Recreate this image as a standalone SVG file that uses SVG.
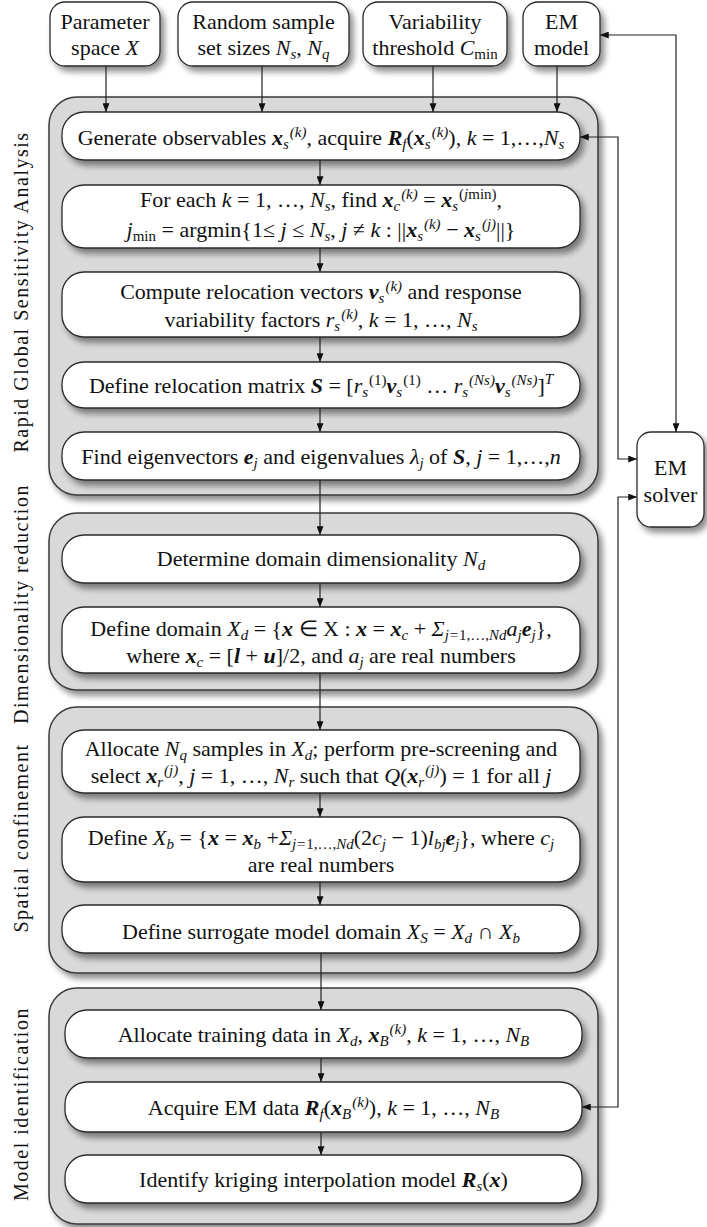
<svg xmlns="http://www.w3.org/2000/svg" width="707" height="1227" viewBox="0 0 707 1227">
<defs>
<style>
text{font-family:"Liberation Serif","Times New Roman",serif;font-size:22px;fill:#111}
.t{text-anchor:middle}
.lab{font-size:20px;letter-spacing:1.5px;text-anchor:middle}
.i{font-style:italic}
.b{font-weight:bold;font-style:italic}
.s{font-size:15px}
.sec{fill:#d9d9d9;stroke:#3a3a3a;stroke-width:1.5}
.box{fill:#fff;stroke:#2a2a2a;stroke-width:1.3}
.ln{fill:none;stroke:#222;stroke-width:1.2}
</style>
<filter id="sh" x="-10%" y="-10%" width="125%" height="140%">
<feGaussianBlur in="SourceAlpha" stdDeviation="3"/>
<feOffset dx="4" dy="5" result="o"/>
<feComponentTransfer><feFuncA type="linear" slope="0.45"/></feComponentTransfer>
<feMerge><feMergeNode/><feMergeNode in="SourceGraphic"/></feMerge>
</filter>
<marker id="ar" viewBox="0 0 10 8" refX="10" refY="4" markerWidth="9" markerHeight="7" markerUnits="userSpaceOnUse" orient="auto-start-reverse">
<path d="M0,0 L10,4 L0,8 z" fill="#111"/>
</marker>
</defs>

<!-- sections -->
<g id="sec1"><rect class="sec" x="49" y="97" width="549" height="398" rx="28" filter="url(#sh)"/>
<text class="lab" transform="translate(28,292) rotate(-90)">Rapid Global Sensitivity Analysis</text></g>
<g id="sec2"><rect class="sec" x="49" y="513" width="549" height="177" rx="28" filter="url(#sh)"/>
<text class="lab" transform="translate(28,604) rotate(-90)">Dimensionality reduction</text></g>
<g id="sec3"><rect class="sec" x="49" y="707" width="549" height="266" rx="28" filter="url(#sh)"/>
<text class="lab" transform="translate(28,838) rotate(-90)">Spatial confinement</text></g>
<g id="sec4"><rect class="sec" x="49" y="988" width="549" height="236" rx="28" filter="url(#sh)"/>
<text class="lab" transform="translate(28,1104) rotate(-90)">Model identification</text></g>

<!-- top inputs -->
<g id="in1"><rect class="box" x="50" y="2" width="110" height="64" rx="15" filter="url(#sh)"/>
<text class="t" x="105" y="29">Parameter</text>
<text class="t" x="105" y="55">space <tspan class="i">X</tspan></text></g>
<g id="in2"><rect class="box" x="178" y="2" width="171" height="64" rx="15" filter="url(#sh)"/>
<text class="t" x="263.5" y="29">Random sample</text>
<text class="t" x="263.5" y="55">set sizes <tspan class="i">N</tspan><tspan class="s i" baseline-shift="-4">s</tspan>, <tspan class="i">N</tspan><tspan class="s i" baseline-shift="-4">q</tspan></text></g>
<g id="in3"><rect class="box" x="363" y="2" width="144" height="64" rx="15" filter="url(#sh)"/>
<text class="t" x="435" y="29">Variability</text>
<text class="t" x="435" y="55">threshold <tspan class="i">C</tspan><tspan class="s" baseline-shift="-4">min</tspan></text></g>
<g id="in4"><rect class="box" x="523" y="2" width="77" height="64" rx="15" filter="url(#sh)"/>
<text class="t" x="561.5" y="29">EM</text>
<text class="t" x="561.5" y="55">model</text></g>

<!-- EM solver -->
<g id="solver"><rect class="box" x="637" y="432" width="67" height="95" rx="14" filter="url(#sh)"/>
<text class="t" x="670.5" y="475">EM</text>
<text class="t" x="670.5" y="502">solver</text></g>

<!-- section 1 boxes -->
<g id="n1"><rect class="box" x="62" y="112" width="518" height="48" rx="22" filter="url(#sh)"/>
<text class="t" x="321" y="145">Generate observables <tspan class="b">x</tspan><tspan class="s i" baseline-shift="-4">s</tspan><tspan class="s i" dx="1" baseline-shift="8">(k)</tspan>, acquire <tspan class="b">R</tspan><tspan class="s i" baseline-shift="-4">f</tspan>(<tspan class="b">x</tspan><tspan class="s i" baseline-shift="-4">s</tspan><tspan class="s i" dx="1" baseline-shift="8">(k)</tspan>), <tspan class="i">k</tspan> = 1,…,<tspan class="i">N</tspan><tspan class="s i" baseline-shift="-4">s</tspan></text></g>

<g id="n2"><rect class="box" x="62" y="185" width="518" height="63" rx="22" filter="url(#sh)"/>
<text class="t" x="321" y="207">For each <tspan class="i">k</tspan> = 1, …, <tspan class="i">N</tspan><tspan class="s i" baseline-shift="-4">s</tspan>, find <tspan class="b">x</tspan><tspan class="s i" baseline-shift="-4">c</tspan><tspan class="s i" dx="1" baseline-shift="8">(k)</tspan> = <tspan class="b">x</tspan><tspan class="s i" baseline-shift="-4">s</tspan><tspan class="s" dx="1" baseline-shift="8">(<tspan class="i">j</tspan>min)</tspan>,</text>
<text class="t" x="321" y="237"><tspan class="i">j</tspan><tspan class="s" baseline-shift="-4">min</tspan> = argmin{1≤ <tspan class="i">j</tspan> ≤ <tspan class="i">N</tspan><tspan class="s i" baseline-shift="-4">s</tspan>, <tspan class="i">j</tspan> ≠ <tspan class="i">k</tspan> : ||<tspan class="b">x</tspan><tspan class="s i" baseline-shift="-4">s</tspan><tspan class="s i" dx="1" baseline-shift="8">(k)</tspan> − <tspan class="b">x</tspan><tspan class="s i" baseline-shift="-4">s</tspan><tspan class="s i" dx="1" baseline-shift="8">(j)</tspan>||}</text></g>

<g id="n3"><rect class="box" x="62" y="272" width="518" height="65" rx="22" filter="url(#sh)"/>
<text class="t" x="321" y="299">Compute relocation vectors <tspan class="b">v</tspan><tspan class="s i" baseline-shift="-4">s</tspan><tspan class="s i" dx="1" baseline-shift="8">(k)</tspan> and response</text>
<text class="t" x="321" y="327">variability factors <tspan class="i">r</tspan><tspan class="s i" baseline-shift="-4">s</tspan><tspan class="s i" dx="1" baseline-shift="8">(k)</tspan>, <tspan class="i">k</tspan> = 1, …, <tspan class="i">N</tspan><tspan class="s i" baseline-shift="-4">s</tspan></text></g>

<g id="n4"><rect class="box" x="62" y="362" width="518" height="46" rx="22" filter="url(#sh)"/>
<text class="t" x="321" y="393">Define relocation matrix <tspan class="b">S</tspan> = [<tspan class="i">r</tspan><tspan class="s i" baseline-shift="-4">s</tspan><tspan class="s" dx="1" baseline-shift="8">(1)</tspan><tspan class="b">v</tspan><tspan class="s i" baseline-shift="-4">s</tspan><tspan class="s" dx="1" baseline-shift="8">(1)</tspan>  … <tspan class="i">r</tspan><tspan class="s i" baseline-shift="-4">s</tspan><tspan class="s i" dx="1" baseline-shift="8">(Ns)</tspan><tspan class="b">v</tspan><tspan class="s i" baseline-shift="-4">s</tspan><tspan class="s i" dx="1" baseline-shift="8">(Ns)</tspan>]<tspan class="s i" baseline-shift="9">T</tspan></text></g>

<g id="n5"><rect class="box" x="62" y="432" width="518" height="48" rx="22" filter="url(#sh)"/>
<text class="t" x="321" y="464">Find eigenvectors <tspan class="b">e</tspan><tspan class="s i" baseline-shift="-4">j</tspan> and eigenvalues <tspan class="i">λ</tspan><tspan class="s i" baseline-shift="-4">j</tspan> of <tspan class="b">S</tspan>, <tspan class="i">j</tspan> = 1,…,<tspan class="i">n</tspan></text></g>

<!-- section 2 boxes -->
<g id="n6"><rect class="box" x="62" y="535" width="518" height="48" rx="22" filter="url(#sh)"/>
<text class="t" x="321" y="566">Determine domain dimensionality <tspan class="i">N</tspan><tspan class="s i" baseline-shift="-4">d</tspan></text></g>

<g id="n7"><rect class="box" x="62" y="607" width="518" height="66" rx="22" filter="url(#sh)"/>
<text class="t" x="321" y="636">Define domain <tspan class="i">X</tspan><tspan class="s i" baseline-shift="-4">d</tspan> = {<tspan class="b">x</tspan> ∈ X : <tspan class="b">x</tspan> = <tspan class="b">x</tspan><tspan class="s i" baseline-shift="-4">c</tspan> + <tspan class="i">Σ</tspan><tspan class="s i" baseline-shift="-4">j=</tspan><tspan class="s" baseline-shift="-4">1,…,</tspan><tspan class="s i" baseline-shift="-4">Nd</tspan><tspan class="i">a</tspan><tspan class="s i" baseline-shift="-4">j</tspan><tspan class="b">e</tspan><tspan class="s i" baseline-shift="-4">j</tspan>},</text>
<text class="t" x="321" y="663">where <tspan class="b">x</tspan><tspan class="s i" baseline-shift="-4">c</tspan> = [<tspan class="b">l</tspan> + <tspan class="b">u</tspan>]/2, and <tspan class="i">a</tspan><tspan class="s i" baseline-shift="-4">j</tspan> are real numbers</text></g>

<!-- section 3 boxes -->
<g id="n8"><rect class="box" x="62" y="730" width="518" height="63" rx="22" filter="url(#sh)"/>
<text class="t" x="321" y="756">Allocate <tspan class="i">N</tspan><tspan class="s i" baseline-shift="-4">q</tspan> samples in <tspan class="i">X</tspan><tspan class="s i" baseline-shift="-4">d</tspan>; perform pre-screening and</text>
<text class="t" x="321" y="783">select <tspan class="b">x</tspan><tspan class="s i" baseline-shift="-4">r</tspan><tspan class="s i" dx="1" baseline-shift="8">(j)</tspan>, <tspan class="i">j</tspan> = 1, …, <tspan class="i">N</tspan><tspan class="s i" baseline-shift="-4">r</tspan> such that <tspan class="i">Q</tspan>(<tspan class="b">x</tspan><tspan class="s i" baseline-shift="-4">r</tspan><tspan class="s i" dx="1" baseline-shift="8">(j)</tspan>) = 1 for all <tspan class="i">j</tspan></text></g>

<g id="n9"><rect class="box" x="62" y="817" width="518" height="65" rx="22" filter="url(#sh)"/>
<text class="t" x="321" y="845">Define <tspan class="i">X</tspan><tspan class="s i" baseline-shift="-4">b</tspan> = {<tspan class="b">x</tspan> = <tspan class="b">x</tspan><tspan class="s i" baseline-shift="-4">b</tspan> +<tspan class="i">Σ</tspan><tspan class="s i" baseline-shift="-4">j=</tspan><tspan class="s" baseline-shift="-4">1,…,</tspan><tspan class="s i" baseline-shift="-4">Nd</tspan>(2<tspan class="i">c</tspan><tspan class="s i" baseline-shift="-4">j</tspan> − 1)<tspan class="i">l</tspan><tspan class="s i" baseline-shift="-4">bj</tspan><tspan class="b">e</tspan><tspan class="s i" baseline-shift="-4">j</tspan>}, where <tspan class="i">c</tspan><tspan class="s i" baseline-shift="-4">j</tspan></text>
<text class="t" x="321" y="872">are real numbers</text></g>

<g id="n10"><rect class="box" x="62" y="905" width="518" height="48" rx="22" filter="url(#sh)"/>
<text class="t" x="321" y="939">Define surrogate model domain <tspan class="i">X</tspan><tspan class="s i" baseline-shift="-4">S</tspan> = <tspan class="i">X</tspan><tspan class="s i" baseline-shift="-4">d</tspan> ∩ <tspan class="i">X</tspan><tspan class="s i" baseline-shift="-4">b</tspan></text></g>

<!-- section 4 boxes -->
<g id="n11"><rect class="box" x="65" y="1010" width="517" height="48" rx="22" filter="url(#sh)"/>
<text class="t" x="323.5" y="1042">Allocate training data in <tspan class="i">X</tspan><tspan class="s i" baseline-shift="-4">d</tspan>, <tspan class="b">x</tspan><tspan class="s i" baseline-shift="-4">B</tspan><tspan class="s i" dx="1" baseline-shift="8">(k)</tspan>, <tspan class="i">k</tspan> = 1, …, <tspan class="i">N</tspan><tspan class="s i" baseline-shift="-4">B</tspan></text></g>

<g id="n12"><rect class="box" x="65" y="1082" width="517" height="50" rx="22" filter="url(#sh)"/>
<text class="t" x="323.5" y="1115">Acquire EM data <tspan class="b">R</tspan><tspan class="s i" baseline-shift="-4">f</tspan>(<tspan class="b">x</tspan><tspan class="s i" baseline-shift="-4">B</tspan><tspan class="s i" dx="1" baseline-shift="8">(k)</tspan>), <tspan class="i">k</tspan> = 1, …, <tspan class="i">N</tspan><tspan class="s i" baseline-shift="-4">B</tspan></text></g>

<g id="n13"><rect class="box" x="65" y="1155" width="517" height="48" rx="22" filter="url(#sh)"/>
<text class="t" x="323.5" y="1187">Identify kriging interpolation model <tspan class="b">R</tspan><tspan class="s i" baseline-shift="-4">s</tspan>(<tspan class="b">x</tspan>)</text></g>

<!-- connectors -->
<g id="connectors" class="ln">
<path class="ln" d="M106,66 V112" marker-end="url(#ar)"/>
<path class="ln" d="M262,66 V112" marker-end="url(#ar)"/>
<path class="ln" d="M433,66 V112" marker-end="url(#ar)"/>
<path class="ln" d="M557,66 V112" marker-end="url(#ar)"/>
<path class="ln" d="M320,160 V185" marker-end="url(#ar)"/>
<path class="ln" d="M320,248 V272" marker-end="url(#ar)"/>
<path class="ln" d="M320,337 V362" marker-end="url(#ar)"/>
<path class="ln" d="M320,408 V432" marker-end="url(#ar)"/>
<path class="ln" d="M320,480 V535" marker-end="url(#ar)"/>
<path class="ln" d="M320,583 V607" marker-end="url(#ar)"/>
<path class="ln" d="M320,673 V730" marker-end="url(#ar)"/>
<path class="ln" d="M320,793 V817" marker-end="url(#ar)"/>
<path class="ln" d="M320,882 V905" marker-end="url(#ar)"/>
<path class="ln" d="M321,953 V1010" marker-end="url(#ar)"/>
<path class="ln" d="M321,1058 V1082" marker-end="url(#ar)"/>
<path class="ln" d="M321,1132 V1155" marker-end="url(#ar)"/>
<path class="ln" d="M600,35 H676 V432" marker-start="url(#ar)" marker-end="url(#ar)"/>
<path class="ln" d="M580,137 H618 V459 H637" marker-start="url(#ar)" marker-end="url(#ar)"/>
<path class="ln" d="M637,497 H618 V1107 H582" marker-start="url(#ar)" marker-end="url(#ar)"/>
</g>
</svg>
